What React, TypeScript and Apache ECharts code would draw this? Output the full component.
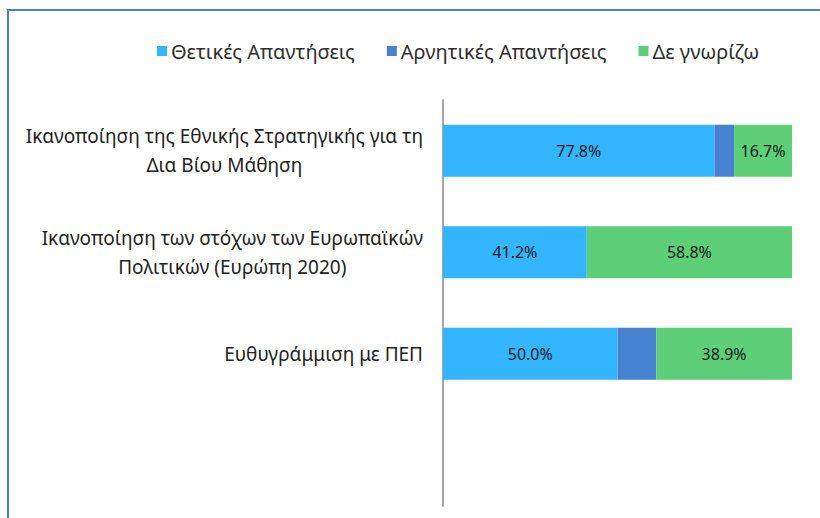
import React, { useEffect, useRef } from "react";
import * as echarts from "echarts";

const categories = [
  "Ικανοποίηση της Εθνικής Στρατηγικής για τη\nΔια Βίου Μάθηση",
  "Ικανοποίηση των στόχων των Ευρωπαϊκών\nΠολιτικών (Ευρώπη 2020)",
  "Ευθυγράμμιση με ΠΕΠ",
  "",
];
const seriesNames = ["Θετικές Απαντήσεις", "Αρνητικές Απαντήσεις", "Δε γνωρίζω"];
const positive = [77.8, 41.2, 50.0, null];
const negative = [5.6, 0, 11.1, null];
const dontKnow = [16.7, 58.8, 38.9, null];
const colors = ["#33b5ff", "#4682d0", "#5ccf78"];

const FONT = "'Noto Sans', 'Open Sans', sans-serif";

export default function App() {
  const ref = useRef<HTMLDivElement>(null);
  useEffect(() => {
    document.body.style.margin = "0";
    const chart = echarts.init(ref.current!, undefined, { renderer: "svg" });
    const barLabel = {
      show: true,
      position: "inside",
      color: "#1a1a1a",
      fontSize: 16,
      fontFamily: FONT,
      formatter: (p: any) => (p.value == null || p.value === 0 ? "" : Number(p.value).toFixed(1) + "%"),
    };
    const datasets = [positive, negative, dontKnow];
    chart.setOption({
      animation: false,
      backgroundColor: "#ffffff",
      graphic: [
        {
          type: "rect",
          shape: { x: 8, y: 10, width: 1000, height: 1000 },
          style: { fill: "none", stroke: "#4f81bd", lineWidth: 2 },
          z: -1,
          silent: true,
        },
      ],
      legend: {
        data: seriesNames,
        left: 157,
        top: 41,
        padding: 0,
        itemGap: 32,
        itemWidth: 10,
        itemHeight: 10,
        icon: "rect",
        textStyle: { fontSize: 20, fontFamily: FONT, color: "#2e2e2e", padding: [0, 0, 0, -1] },
      },
      grid: { left: 443, top: 100, width: 349, height: 406 },
      xAxis: {
        type: "value",
        min: 0,
        max: 100,
        show: false,
        splitLine: { show: false },
      },
      yAxis: {
        type: "category",
        data: categories,
        inverse: true,
        axisTick: { show: false },
        axisLine: { show: true, lineStyle: { color: "#a6a6a6", width: 2 } },
        axisLabel: {
          margin: 20,
          formatter: (v: string) =>
            v ? v.split("\n").map((l) => `{c|${l}}`).join("\n") : "",
          rich: {
            c: {
              align: "center",
              fontSize: 19,
              fontFamily: FONT,
              color: "#222222",
              lineHeight: 29,
            },
          },
        },
      },
      series: seriesNames.map((name, i) => ({
        name,
        type: "bar",
        stack: "total",
        barWidth: 52,
        data: datasets[i],
        itemStyle: { color: colors[i] },
        label: i === 1 ? { show: false } : barLabel,
      })),
    });
    return () => chart.dispose();
  }, []);
  return <div ref={ref} style={{ width: 820, height: 518 }} />;
}
